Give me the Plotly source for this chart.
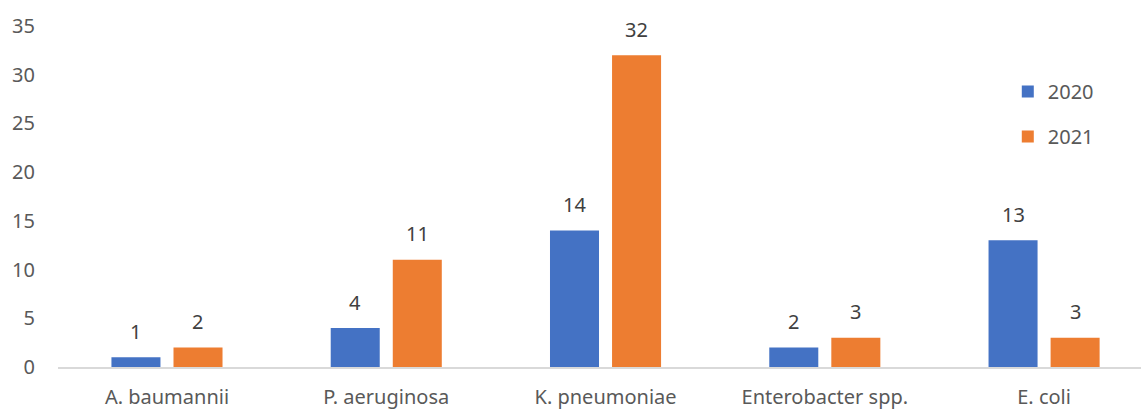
import plotly.graph_objects as go

categories = ["A. baumannii", "P. aeruginosa", "K. pneumoniae", "Enterobacter spp.", "E. coli"]
values_2020 = [1, 4, 14, 2, 13]
values_2021 = [2, 11, 32, 3, 3]
series_names = ["2020", "2021"]
y_ticks = [0, 5, 10, 15, 20, 25, 30, 35]

colors = ["#4472C4", "#ED7D31"]
font_family = "Noto Sans, Open Sans, sans-serif"
text_color = "#595959"
fsize = 20

fig = go.Figure()
for name, vals, col in zip(series_names, [values_2020, values_2021], colors):
    fig.add_trace(go.Bar(
        x=categories, y=vals, name=name, legendgroup=name,
        marker=dict(color=col, line=dict(width=0)),
    ))

# value labels above each bar
bar_shift = 31
for shift, vals in zip([-bar_shift, bar_shift], [values_2020, values_2021]):
    for cat, v in zip(categories, vals):
        fig.add_annotation(
            x=cat, y=v, text=str(v), showarrow=False,
            xshift=shift, yshift=26, yanchor="middle",
            font=dict(family=font_family, size=fsize, color="#404040"),
        )

fig.update_layout(
    width=1141, height=410,
    margin=dict(l=58, r=0, t=26, b=43),
    paper_bgcolor="white", plot_bgcolor="white",
    barmode="group", bargap=0.434, bargroupgap=0.21,
    font=dict(family=font_family, size=fsize, color=text_color),
    legend=dict(
        x=0.877, y=0.865, xanchor="left", yanchor="top",
        traceorder="grouped", tracegroupgap=16,
        font=dict(size=fsize, color=text_color),
        bgcolor="rgba(0,0,0,0)",
    ),
    xaxis=dict(
        range=[-0.497, 4.442], showline=True, linecolor="#D9D9D9", linewidth=1.5,
        showgrid=False, zeroline=False, ticks="outside", ticklen=11,
        tickcolor="rgba(0,0,0,0)",
        tickfont=dict(size=fsize, color=text_color),
    ),
    yaxis=dict(
        range=[0, 35], tickvals=y_ticks, showgrid=False, zeroline=False,
        showline=False, ticks="", ticklabelstandoff=22,
        tickfont=dict(size=fsize, color=text_color),
    ),
)

fig.write_html("out.html")
